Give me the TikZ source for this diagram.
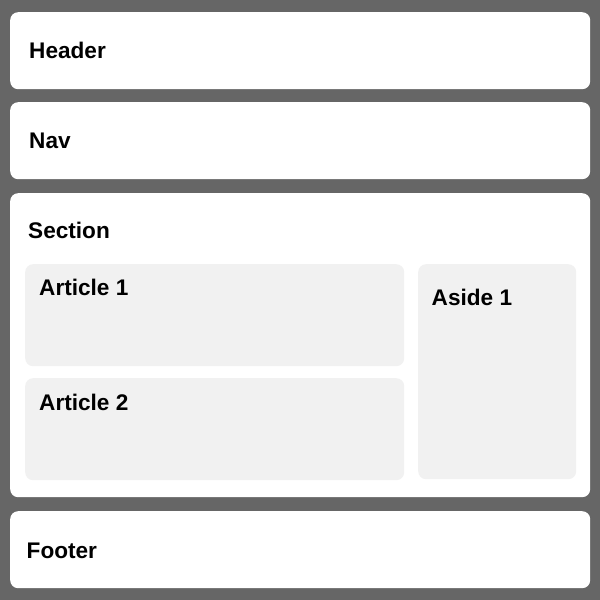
\documentclass[tikz,border=0pt]{standalone}
\usepackage{fontspec}
\setmainfont{Liberation Sans}
\usepackage{tikz}
\usetikzlibrary{positioning}
\definecolor{pagegray}{HTML}{666666}
\definecolor{innergray}{HTML}{F1F1F1}

\begin{document}
\begin{tikzpicture}[x=1pt, y=-1pt,
	box/.style={shape=rectangle, fill=white, rounded corners=8pt, inner sep=0, anchor=north west},
	subbox/.style={box, fill=innergray},
	lbl/.style={anchor=base west, inner sep=0, font=\fontsize{22.6}{26}\selectfont\bfseries}]
				\fill[pagegray] (0,0) rectangle (600,600);
				\useasboundingbox (0,0) rectangle (600,600);
				% outer boxes
				\node[box, minimum width=580pt, minimum height=77pt] (header) at (10,12) {};
				\node[box, minimum width=580pt, minimum height=77pt] (nav) at (10,102) {};
				\node[box, minimum width=580pt, minimum height=304pt] (section) at (10,193) {};
				\node[box, minimum width=580pt, minimum height=77pt] (footer) at (10,511) {};
				% inner boxes
				\node[subbox, minimum width=379pt, minimum height=102pt] (article1) at (25,264) {};
				\node[subbox, minimum width=379pt, minimum height=102pt] (article2) at (25,378) {};
				\node[subbox, minimum width=158pt, minimum height=215pt] (aside1) at (418,264) {};
				% labels
				\node[lbl] (headerlbl) at (29,58.5) {Header};
				\node[lbl] (navlbl) at (29,148.5) {Nav};
				\node[lbl] (sectionlbl) at (28,238) {Section};
				\node[lbl] (article1lbl) at (39,295) {Article 1};
				\node[lbl] (article2lbl) at (39,410) {Article 2};
				\node[lbl] (aside1lbl) at (431.5,305) {Aside 1};
				\node[lbl] (footerlbl) at (26.5,558) {Footer};
			\end{tikzpicture}
\end{document}
